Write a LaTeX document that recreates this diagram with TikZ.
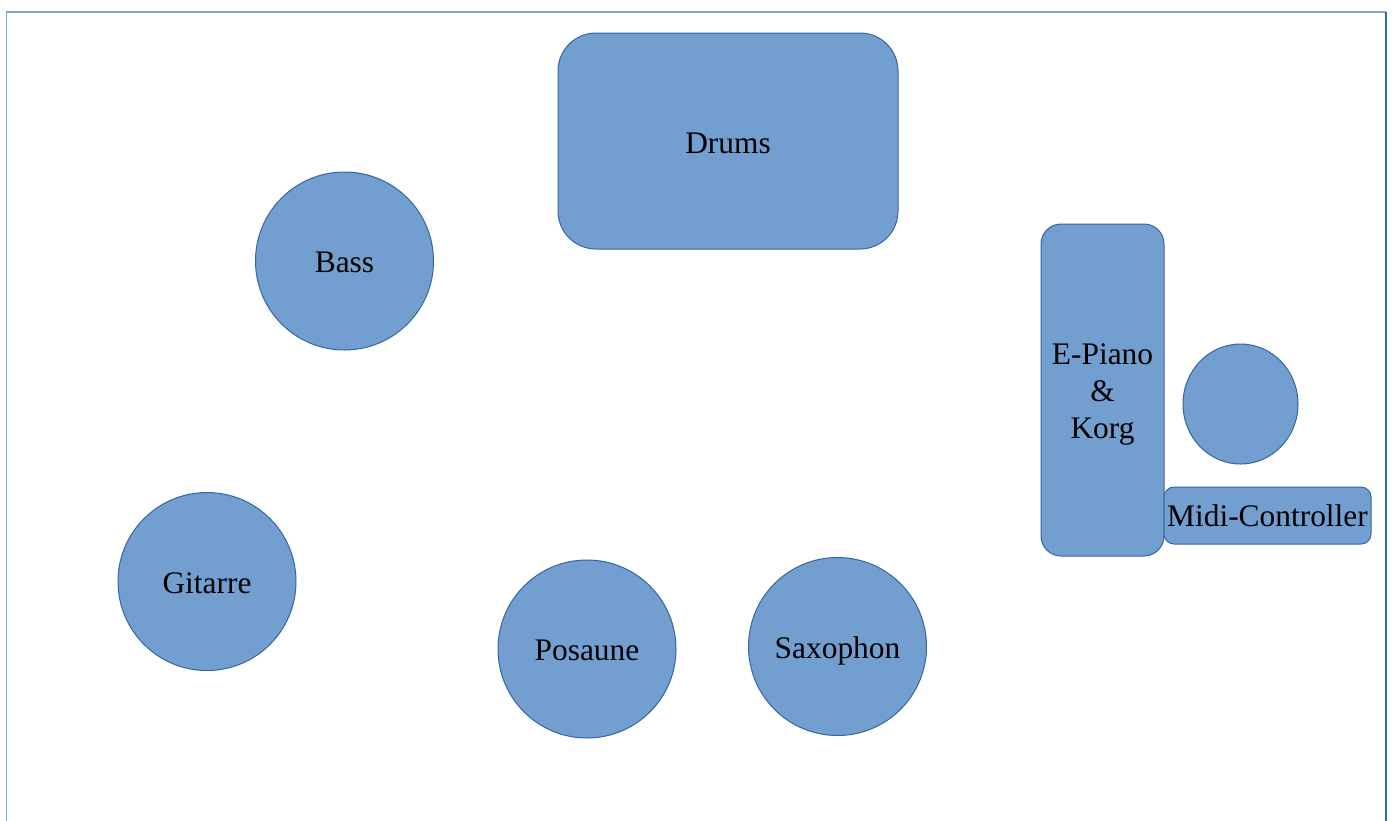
\documentclass[tikz,border=0pt]{standalone}
\usepackage{fontspec}
\setmainfont{Liberation Serif}
\usetikzlibrary{shapes.geometric}
\definecolor{stagefill}{HTML}{729FCF}
\definecolor{stageline}{HTML}{3465A4}
\definecolor{framelight}{HTML}{7EA6D6}
\tikzset{
  stagefont/.style={font=\fontsize{15.7}{18.5}\selectfont},
  player/.style={circle, draw=stageline, fill=stagefill, line width=0.5pt,
    minimum size=89pt, inner sep=0pt, stagefont,
    text height=11.8pt, text depth=0pt},
  instr/.style={rectangle, draw=stageline, fill=stagefill, line width=0.5pt,
    inner sep=0pt, stagefont, align=center}
}
\begin{document}
\begin{tikzpicture}[x=0.5pt, y=-0.5pt]
  \useasboundingbox (0,0) rectangle (1392,820);
  % frame of the stage (open at the bottom)
  \draw[framelight, line width=0.8pt] (6.5,822) -- (6.5,12) -- (1386,12);
  \draw[stageline, line width=0.6pt] (1386,12) -- (1386,822);

  \node[instr, minimum width=170pt, minimum height=108pt, rounded corners=19pt,
    text height=12pt, text depth=0pt]
    (drums) at (728,141) {Drums};
  \node[player] (bass) at (344.5,261) {Bass};
  \node[player] (gitarre) at (207,581.5) {Gitarre};
  \node[player] (posaune) at (587,649) {Posaune};
  \node[player] (saxophon) at (837.5,646.5) {Saxophon};
  \node[instr, minimum width=61.5pt, minimum height=166pt, rounded corners=10pt]
    (epiano) at (1102.5,390) {\rule{0pt}{14.8pt}E-Piano\\\&\\Korg};
  \node[ellipse, draw=stageline, fill=stagefill, line width=0.5pt,
    minimum width=57.5pt, minimum height=60pt, inner sep=0pt]
    (keys) at (1240.5,404) {};
  \node[instr, minimum width=103.5pt, minimum height=28.5pt, rounded corners=5pt]
    (midi) at (1267.5,515.5) {Midi-Controller};
\end{tikzpicture}
\end{document}
